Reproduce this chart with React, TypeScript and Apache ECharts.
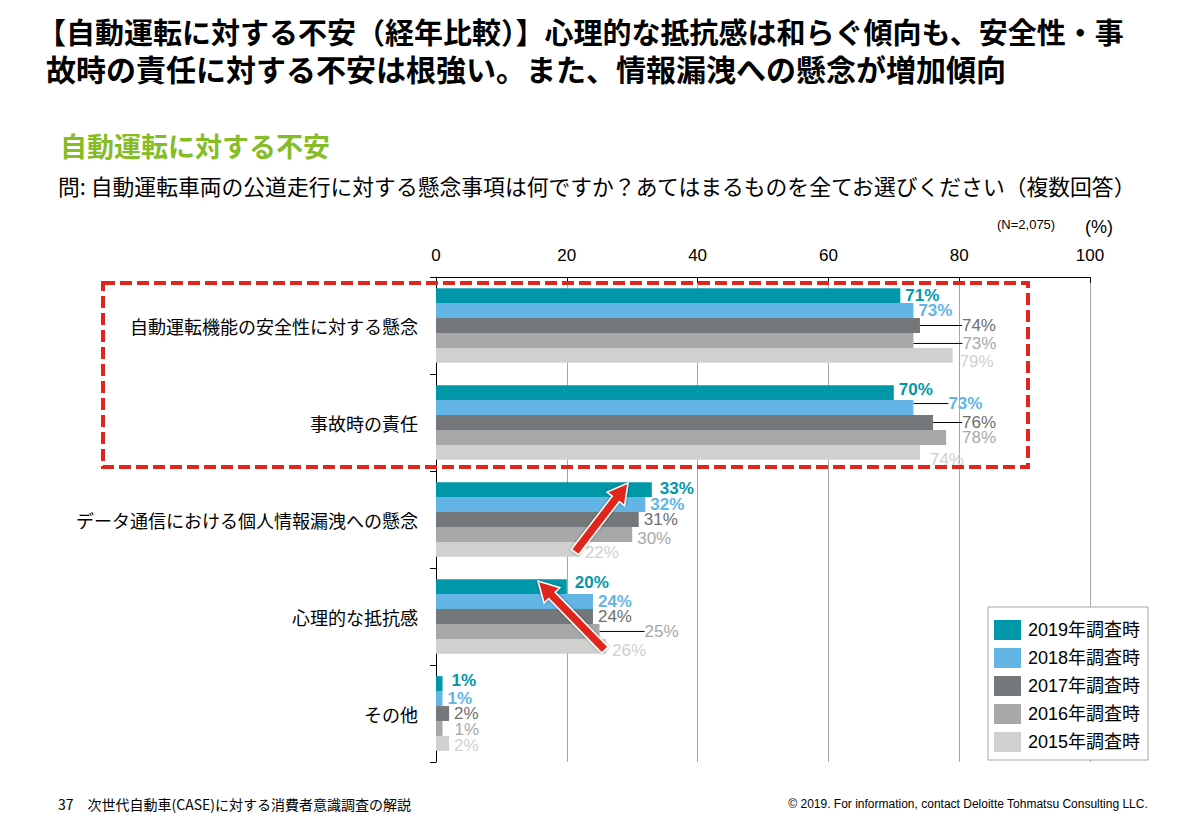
import React, { useEffect, useRef } from 'react';
import * as echarts from 'echarts';

const categories = [
  '自動運転機能の安全性に対する懸念',
  '事故時の責任',
  'データ通信における個人情報漏洩への懸念',
  '心理的な抵抗感',
  'その他',
];
const seriesNames = ['2019年調査時', '2018年調査時', '2017年調査時', '2016年調査時', '2015年調査時'];
const v2019 = [71, 70, 33, 20, 1];
const v2018 = [73, 73, 32, 24, 1];
const v2017 = [74, 76, 31, 24, 2];
const v2016 = [73, 78, 30, 25, 1];
const v2015 = [79, 74, 22, 26, 2];
const seriesValues = [v2019, v2018, v2017, v2016, v2015];
const xTickStep = 20;
const xMax = 100;

const barColors = ['#0097A9', '#62B5E5', '#75787B', '#A7A8AA', '#D0D0CE'];
const labelColors = ['#0097A9', '#62B5E5', '#6D6E71', '#A7A8AA', '#D0D0CE'];
const labelWeights = ['bold', 'bold', 'normal', 'normal', 'normal'];

// label nudges (seriesIndex-dataIndex) -> [dx, dy]
const nudges: Record<string, [number, number]> = {
  '2-0': [37, 0], '3-0': [44, 3], '4-0': [2, 6],
  '0-1': [0, -3], '1-1': [30, -4], '2-1': [24, 0], '3-1': [11, 0], '4-1': [5, 7],
  '0-2': [3, -1], '3-2': [0, 4], '4-2': [0, 3],
  '0-3': [3, -4], '3-3': [40, 0], '4-3': [1, 4],
  '0-4': [4, -3], '3-4': [7, 1], '4-4': [0, 2],
};
const leaders = new Set(['2-0', '3-0', '1-1', '2-1', '3-3']);

const JP = '"Noto Sans CJK JP", sans-serif';
const LAT = '"Liberation Sans", Arial, "Noto Sans CJK JP", sans-serif';

function arrowPts(x1: number, y1: number, x2: number, y2: number, sw = 9, hw = 22, hl = 20) {
  const dx = x2 - x1, dy = y2 - y1;
  const L = Math.hypot(dx, dy);
  const ux = dx / L, uy = dy / L;
  const px = -uy, py = ux;
  const bx = x2 - ux * hl, by = y2 - uy * hl;
  return [
    [x1 + px * sw / 2, y1 + py * sw / 2],
    [bx + px * sw / 2, by + py * sw / 2],
    [bx + px * hw / 2, by + py * hw / 2],
    [x2, y2],
    [bx - px * hw / 2, by - py * hw / 2],
    [bx - px * sw / 2, by - py * sw / 2],
    [x1 - px * sw / 2, y1 - py * sw / 2],
  ];
}

export default function App() {
  const ref = useRef<HTMLDivElement>(null);
  useEffect(() => {
    if (!ref.current) return;
    const chart = echarts.init(ref.current, undefined, { renderer: 'svg' });
    const series = seriesNames.map((name, si) => ({
      name,
      type: 'bar',
      barGap: '0%',
      barCategoryGap: '23%',
      itemStyle: { color: barColors[si] },
      label: {
        show: true,
        position: 'right',
        distance: 5,
        formatter: '{c}%',
        color: labelColors[si],
        fontWeight: labelWeights[si],
        fontSize: 17,
        fontFamily: LAT,
      },
      labelLine: { show: false, lineStyle: { color: '#000', width: 1 } },
      labelLayout: (params: any) => {
        const n = nudges[`${params.seriesIndex}-${params.dataIndex}`];
        return n ? { dx: n[0], dy: n[1] } : {};
      },
      data: seriesValues[si].map((v, di) => ({
        value: v,
        labelLine: { show: leaders.has(`${si}-${di}`), lineStyle: { color: '#000', width: 1 } },
      })),
    }));

    const graphic: any[] = [
      { type: 'text', left: 37, top: 16, z: 100, style: { text: '【自動運転に対する不安（経年比較）】心理的な抵抗感は和らぐ傾向も、安全性・事', font: `bold 29px ${JP}`, fill: '#000' } },
      { type: 'text', left: 46, top: 53, z: 100, style: { text: '故時の責任に対する不安は根強い。また、情報漏洩への懸念が増加傾向', font: `bold 30px ${JP}`, fill: '#000' } },
      { type: 'text', left: 60, top: 132, z: 100, style: { text: '自動運転に対する不安', font: `bold 27px ${JP}`, fill: '#86BC25' } },
      { type: 'text', left: 58, top: 175, z: 100, style: { text: '問: 自動運転車両の公道走行に対する懸念事項は何ですか？あてはまるものを全てお選びください（複数回答）', font: `21.8px ${JP}`, fill: '#000' } },
      { type: 'text', left: 997, top: 218, z: 100, style: { text: '(N=2,075)', font: `13px ${LAT}`, fill: '#000' } },
      { type: 'text', left: 1085, top: 218, z: 100, style: { text: '(%)', font: `18px ${LAT}`, fill: '#000' } },
      { type: 'text', left: 58, top: 797, z: 100, style: { text: '37　次世代自動車(CASE)に対する消費者意識調査の解説', font: `14px ${JP}`, fill: '#000' } },
      { type: 'text', right: 47, top: 798, z: 100, style: { text: '© 2019. For information, contact Deloitte Tohmatsu Consulting LLC.', font: `12px "Liberation Sans Narrow", ${LAT}`, fill: '#000' } },
      { type: 'rect', z: 100, shape: { x: 103, y: 283, width: 925, height: 184 }, style: { fill: 'none', stroke: '#E0261C', lineWidth: 4, lineDash: [12, 5] } },
      { type: 'polygon', z: 100, shape: { points: arrowPts(575, 552, 628, 483) }, style: { fill: '#E0261C', stroke: '#fff', lineWidth: 1.5, shadowBlur: 3, shadowColor: 'rgba(0,0,0,0.35)' } },
      { type: 'polygon', z: 100, shape: { points: arrowPts(605, 650, 538, 581) }, style: { fill: '#E0261C', stroke: '#fff', lineWidth: 1.5, shadowBlur: 3, shadowColor: 'rgba(0,0,0,0.35)' } },
    ];

    chart.setOption({
      animation: false,
      backgroundColor: '#fff',
      grid: { left: 436, top: 277, width: 654, height: 485, containLabel: false },
      xAxis: {
        type: 'value',
        position: 'top',
        min: 0,
        max: xMax,
        interval: xTickStep,
        axisLine: { show: true, lineStyle: { color: '#000', width: 1 } },
        axisTick: { show: true, inside: true, length: 6, lineStyle: { color: '#000' } },
        axisLabel: { fontSize: 17, color: '#000', margin: 13, fontFamily: LAT },
        splitLine: { show: true, lineStyle: { color: '#A6A6A6', width: 1 } },
      },
      yAxis: {
        type: 'category',
        inverse: true,
        data: categories,
        axisLine: { show: true, lineStyle: { color: '#000', width: 1 } },
        axisTick: { show: true, length: 6, lineStyle: { color: '#000' } },
        axisLabel: { fontSize: 18, color: '#000', margin: 18, fontFamily: JP },
      },
      legend: {
        orient: 'vertical',
        left: 988,
        top: 607,
        data: seriesNames,
        icon: 'rect',
        itemWidth: 27,
        itemHeight: 20,
        itemGap: 8,
        padding: [13, 8, 8, 6],
        backgroundColor: '#fff',
        borderColor: '#A6A6A6',
        borderWidth: 1,
        textStyle: { fontSize: 18, color: '#000', fontFamily: LAT, padding: [0, 0, 0, 2] },
        z: 50,
      },
      series,
      graphic,
    });
    return () => chart.dispose();
  }, []);
  return (
    <div
      ref={ref}
      style={{ position: 'absolute', left: 0, top: 0, width: 1195, height: 821, background: '#fff' }}
    />
  );
}
